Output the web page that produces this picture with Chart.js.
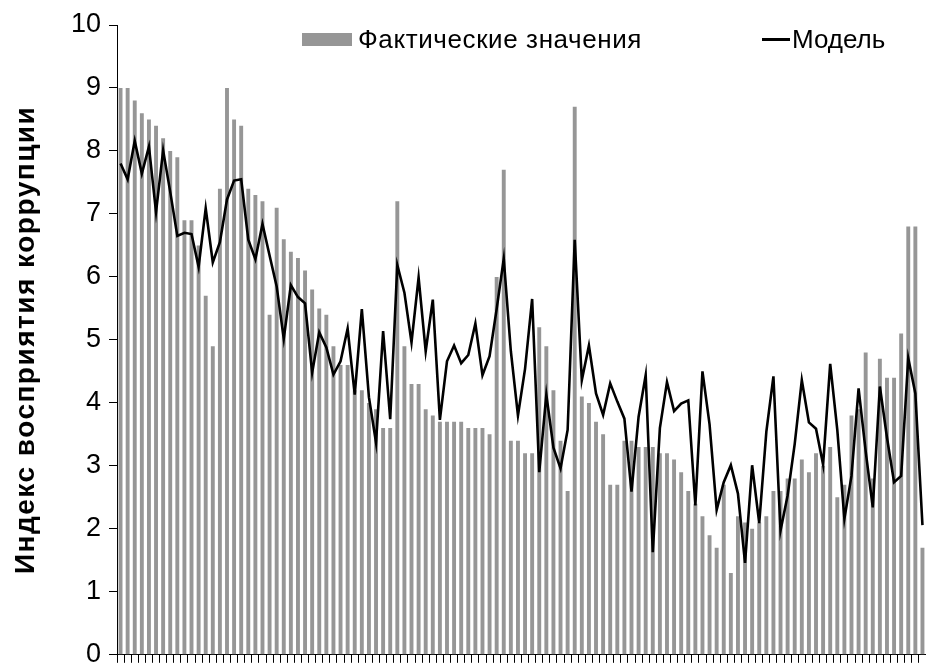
<!DOCTYPE html>
<html>
<head>
<meta charset="utf-8">
<script src="https://cdn.jsdelivr.net/npm/chart.js@4"></script>
<style>
  html, body { margin: 0; padding: 0; background: #fff; overflow: hidden; }
  #wrap { position: relative; width: 926px; height: 663px; overflow: hidden; }
  #legend { position: absolute; top: 24px; left: 0; width: 926px; height: 30px;
            font-family: "Liberation Sans", Arial, sans-serif; font-size: 26px; color: #000; }
  .item { position: absolute; top: 0; display: flex; align-items: center; height: 30px; }
  .box { width: 50px; height: 13px; background: #969696; margin-right: 6px; }
  .ln { width: 28px; height: 3px; background: #000; margin-right: 2px; }
</style>
</head>
<body>
<div id="wrap">
  <canvas id="chart" width="926" height="679"></canvas>
  <div id="legend">
    <div class="item" style="left:302px"><span class="box"></span><span style="letter-spacing:0.6px">Фактические значения</span></div>
    <div class="item" style="left:762px"><span class="ln"></span><span>Модель</span></div>
  </div>
</div>
<script>
// фактические значения индекса (по странам)
const actual = [
  9.0, 9.0, 8.8, 8.6, 8.5, 8.4, 8.2, 8.0, 7.9, 6.9,
  6.9, 6.5, 5.7, 4.9, 7.4, 9.0, 8.5, 8.4, 7.4, 7.3,
  7.2, 5.4, 7.1, 6.6, 6.4, 6.3, 6.1, 5.8, 5.5, 5.4,
  4.9, 4.6, 4.6, 4.2, 4.2, 4.0, 3.9, 3.6, 3.6, 7.2,
  4.9, 4.3, 4.3, 3.9, 3.8, 3.7, 3.7, 3.7, 3.7, 3.6,
  3.6, 3.6, 3.5, 6.0, 7.7, 3.4, 3.4, 3.2, 3.2, 5.2,
  4.9, 4.2, 3.4, 2.6, 8.7, 4.1, 4.0, 3.7, 3.5, 2.7,
  2.7, 3.4, 3.4, 3.3, 3.3, 3.3, 3.2, 3.2, 3.1, 2.9,
  2.6, 2.4, 2.2, 1.9, 1.7, 2.7, 1.3, 2.2, 2.1, 2.0,
  2.1, 2.2, 2.6, 2.6, 2.8, 2.8, 3.1, 2.9, 3.2, 3.0,
  3.3, 2.5, 2.7, 3.8, 3.9, 4.8, 2.8, 4.7, 4.4, 4.4,
  5.1, 6.8, 6.8, 1.7
];

// значения по модели
const model = [
  7.80, 7.55, 8.16, 7.64, 8.07, 7.03, 8.01, 7.35, 6.65, 6.70,
  6.68, 6.16, 7.09, 6.23, 6.55, 7.23, 7.53, 7.55, 6.59, 6.28,
  6.84, 6.34, 5.85, 5.02, 5.87, 5.68, 5.58, 4.48, 5.12, 4.88,
  4.45, 4.66, 5.18, 4.13, 5.49, 4.09, 3.37, 5.14, 3.74, 6.19,
  5.75, 4.96, 5.99, 4.82, 5.64, 3.73, 4.66, 4.91, 4.63, 4.76,
  5.26, 4.44, 4.74, 5.49, 6.29, 4.82, 3.80, 4.54, 5.65, 2.90,
  4.13, 3.29, 2.96, 3.57, 6.59, 4.36, 4.91, 4.15, 3.81, 4.31,
  4.02, 3.75, 2.59, 3.78, 4.44, 1.63, 3.60, 4.33, 3.87, 3.99,
  4.04, 2.37, 4.50, 3.66, 2.30, 2.74, 3.01, 2.56, 1.46, 3.01,
  2.09, 3.54, 4.42, 1.97, 2.53, 3.35, 4.36, 3.69, 3.59, 3.02,
  4.62, 3.57, 2.16, 2.84, 4.23, 3.23, 2.34, 4.26, 3.45, 2.74,
  2.84, 4.71, 4.15, 2.06
];

const labels = actual.map((_, i) => String(i + 1));
const yTicks = [0, 1, 2, 3, 4, 5, 6, 7, 8, 9, 10];

const fontFamily = '"Liberation Sans", Arial, sans-serif';

new Chart(document.getElementById("chart").getContext("2d"), {
  data: {
    labels: labels,
    datasets: [
      {
        type: "line",
        label: "Модель",
        data: model,
        borderColor: "#000",
        borderWidth: 2.6,
        pointRadius: 0,
        tension: 0,
        order: 0
      },
      {
        type: "bar",
        label: "Фактические значения",
        data: actual,
        backgroundColor: "#969696",
        barPercentage: 0.55,
        categoryPercentage: 1,
        order: 1
      }
    ]
  },
  options: {
    responsive: false,
    animation: false,
    layout: { padding: { top: 25, right: 0, bottom: 0, left: 0 } },
    plugins: {
      legend: { display: false },
      tooltip: { enabled: false }
    },
    scales: {
      x: {
        offset: true,
        grid: { drawOnChartArea: false, offset: true, tickLength: 8, color: "#000", lineWidth: 1 },
        border: { color: "#000", width: 1 },
        ticks: { display: false },
        afterFit: (scale) => { scale.height = 8; }
      },
      y: {
        min: 0,
        max: 10,
        afterBuildTicks: (scale) => { scale.ticks = yTicks.map(v => ({ value: v })); },
        grid: { drawOnChartArea: false, tickLength: 8, color: "#000", lineWidth: 1 },
        border: { color: "#000", width: 1 },
        ticks: { color: "#000", padding: 8, font: { family: fontFamily, size: 27 } },
        title: {
          display: true,
          text: "Индекс восприятия коррупции",
          color: "#000",
          padding: { top: 9, bottom: 0 },
          font: { family: fontFamily, size: 28, weight: "bold" }
        },
        afterFit: (scale) => {
          scale.width = 117;
          // немного разрядки для подписи оси, как в оригинале
          if (!scale._spaced) {
            const drawTitle = scale.drawTitle;
            scale.drawTitle = function () {
              this.ctx.save();
              this.ctx.letterSpacing = "1.5px";
              drawTitle.call(this);
              this.ctx.restore();
            };
            scale._spaced = true;
          }
        }
      }
    }
  }
});
</script>
</body>
</html>
